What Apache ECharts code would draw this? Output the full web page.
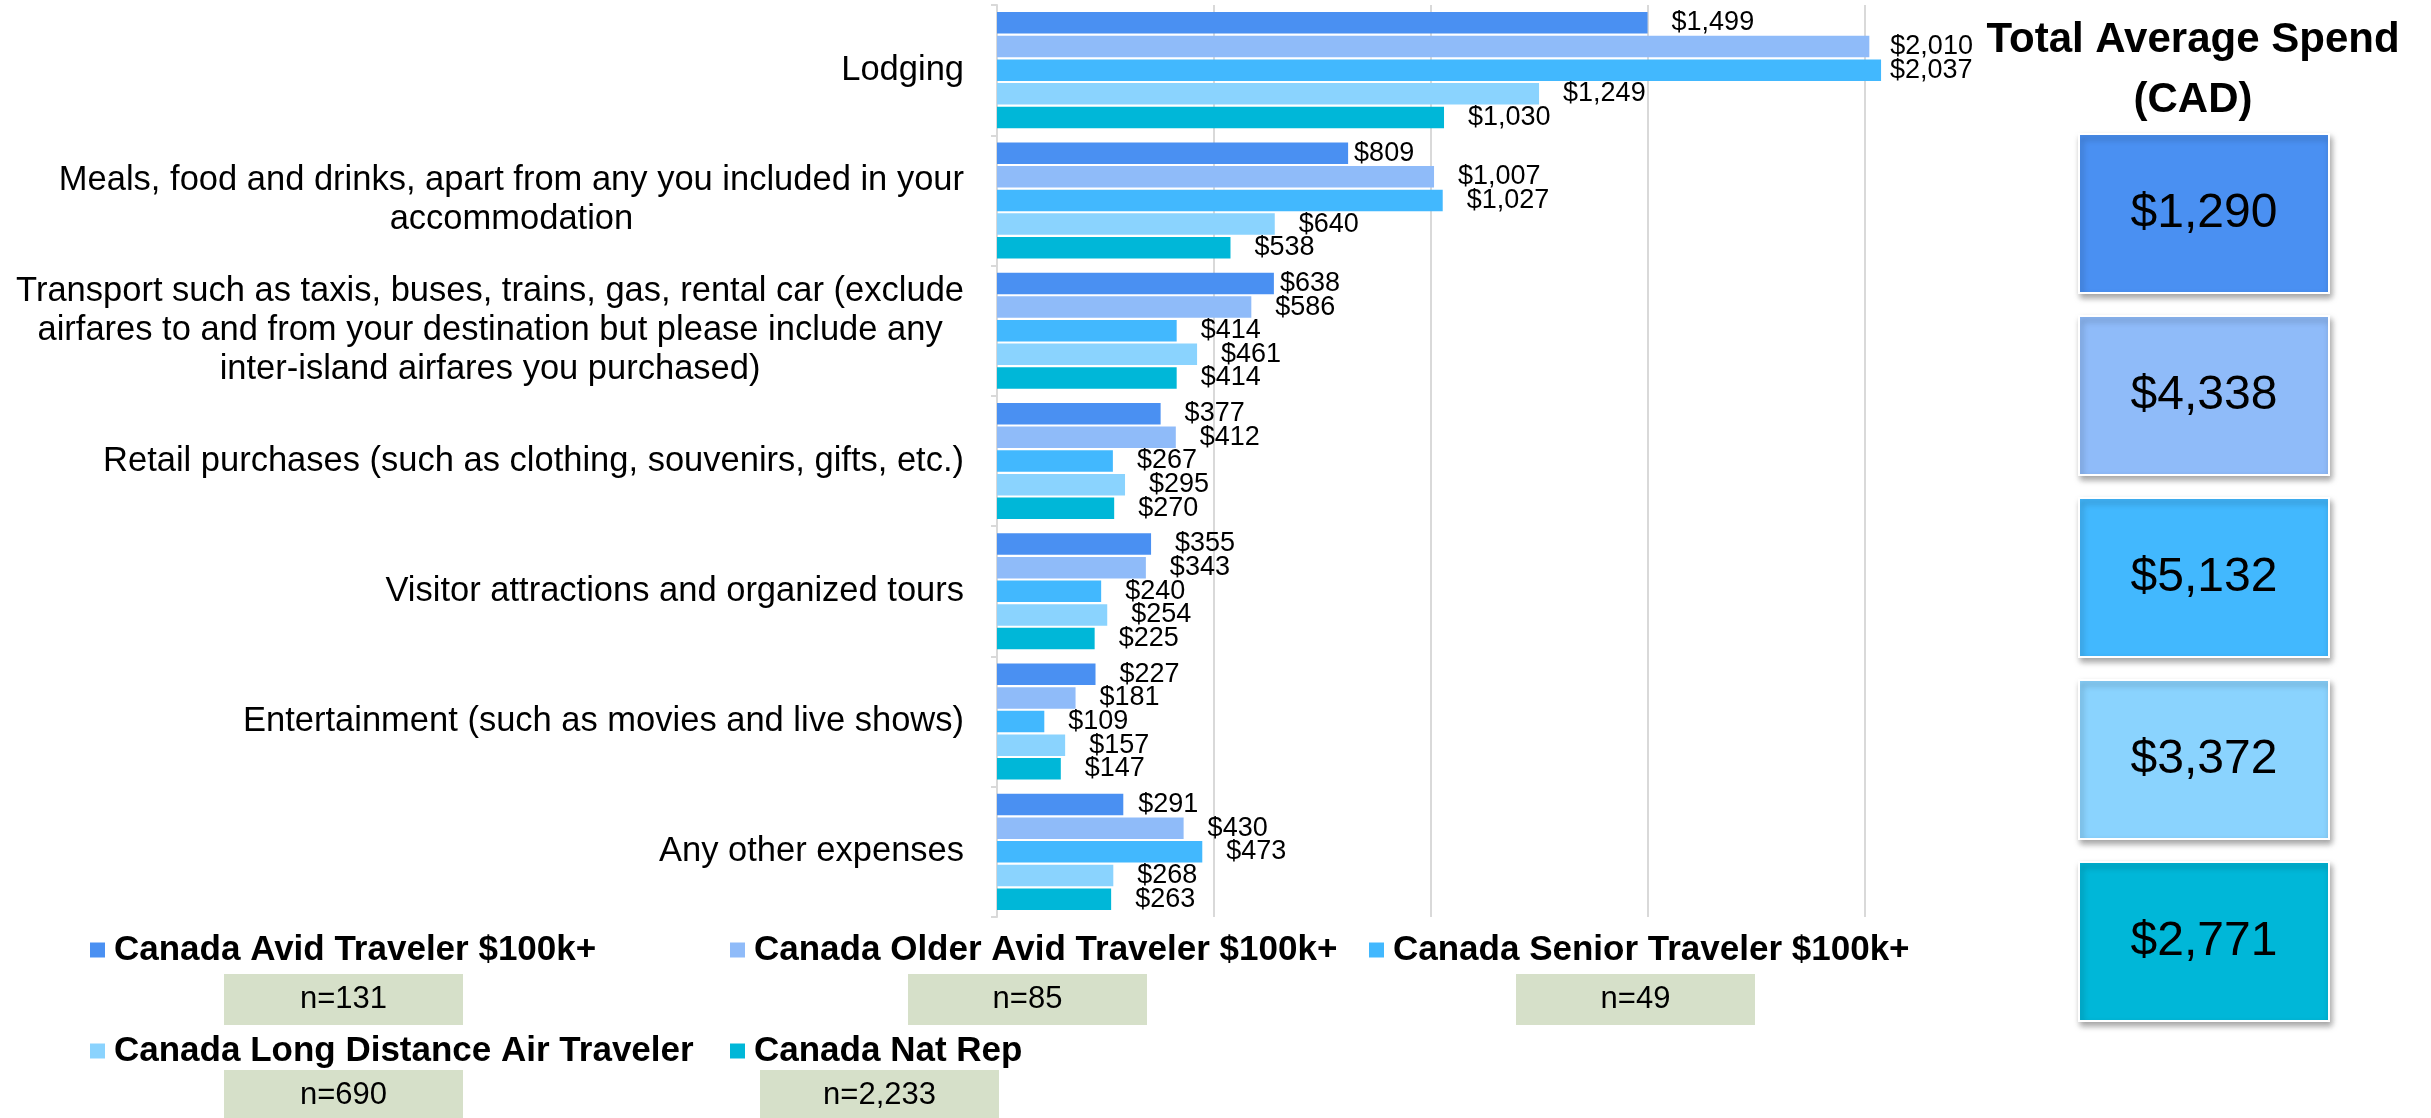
<!DOCTYPE html>
<html>
<head>
<meta charset="utf-8">
<script src="https://cdn.jsdelivr.net/npm/echarts@6/dist/echarts.min.js"></script>
<style>
  html, body { margin: 0; padding: 0; background: #fff; }
  #chart { width: 2431px; height: 1118px; }
</style>
</head>
<body>
<div id="chart"></div>
<script>
// spending categories (top to bottom)
const categories = [
  'Lodging',
  'Meals, food and drinks, apart from any you included in your accommodation',
  'Transport such as taxis, buses, trains, gas, rental car (exclude airfares to and from your destination but please include any inter-island airfares you purchased)',
  'Retail purchases (such as clothing, souvenirs, gifts, etc.)',
  'Visitor attractions and organized tours',
  'Entertainment (such as movies and live shows)',
  'Any other expenses'
]
const seriesNames = [
  'Canada Avid Traveler $100k+',
  'Canada Older Avid Traveler $100k+',
  'Canada Senior Traveler $100k+',
  'Canada Long Distance Air Traveler',
  'Canada Nat Rep'
]
// average spend per category (CAD)
const avid = [1499, 809, 638, 377, 355, 227, 291]
const olderAvid = [2010, 1007, 586, 412, 343, 181, 430]
const senior = [2037, 1027, 414, 267, 240, 109, 473]
const longDistance = [1249, 640, 461, 295, 254, 157, 268]
const natRep = [1030, 538, 414, 270, 225, 147, 263]
// total average spend boxes, one per segment
const totals = [1290, 4338, 5132, 3372, 2771]
// sample sizes under the legend
const sampleSizes = [131, 85, 49, 690, 2233]

const colors = ['#4A90F2', '#8FBBF9', '#42B8FE', '#8AD3FE', '#00B7D8']
const FONT = '"Liberation Sans", Arial, Helvetica, sans-serif'
const money = v => '$' + v.toLocaleString('en-US')

// a few labels sit closer to their bar in the original ("series-category": distance)
const labelNudge = { '0-1': 6, '0-2': 6, '0-6': 15, '1-0': 21, '2-0': 9 }

// wrap long category names, lines centred like the original
const ctx = document.createElement('canvas').getContext('2d')
ctx.font = '34.5px ' + FONT
function wrap(text, maxW) {
  const words = text.split(' ')
  const lines = []
  let cur = ''
  words.forEach(w => {
    const test = cur ? cur + ' ' + w : w
    if (cur && ctx.measureText(test).width > maxW) {
      lines.push(cur)
      cur = w
    } else {
      cur = test
    }
  })
  if (cur) lines.push(cur)
  return lines
}

const seriesData = [avid, olderAvid, senior, longDistance, natRep]

// legend laid out in columns like the original
const legendPos = [[90, 930], [730, 930], [1369, 930], [90, 1031], [730, 1031]]
const nBoxPos = [[224, 974], [908, 974], [1516, 974], [224, 1070], [760, 1070]]

const graphics = []
totals.forEach((t, i) => {
  graphics.push({
    type: 'rect',
    left: 2078,
    top: 133 + i * 182,
    shape: { width: 250, height: 159 },
    style: {
      fill: colors[i],
      stroke: '#fff',
      lineWidth: 2,
      shadowBlur: 6,
      shadowOffsetX: 2,
      shadowOffsetY: 4,
      shadowColor: 'rgba(0,0,0,0.35)'
    },
    textContent: {
      style: { text: money(t), fontSize: 48, fontFamily: FONT, fill: '#000' }
    },
    textConfig: { position: 'inside' }
  })
})
sampleSizes.forEach((n, i) => {
  graphics.push({
    type: 'rect',
    left: nBoxPos[i][0],
    top: nBoxPos[i][1],
    shape: { width: 239, height: 51 },
    style: { fill: '#D6E0C9' },
    textContent: {
      style: { text: 'n=' + n.toLocaleString('en-US'), fontSize: 31, fontFamily: FONT, fill: '#000' }
    },
    textConfig: { position: 'inside' }
  })
})

const chart = echarts.init(document.getElementById('chart'))
chart.setOption({
  animation: false,
  color: colors,
  title: {
    text: 'Total Average Spend\n(CAD)',
    left: 2193,
    top: 10,
    textAlign: 'center',
    padding: 0,
    textStyle: { fontSize: 42, fontWeight: 'bold', fontFamily: FONT, color: '#000', lineHeight: 60 }
  },
  legend: seriesNames.map((name, i) => ({
    data: [name],
    left: legendPos[i][0],
    top: legendPos[i][1],
    padding: 0,
    icon: 'rect',
    itemWidth: 15,
    itemHeight: 15,
    selectedMode: false,
    textStyle: {
      fontSize: 35,
      fontWeight: 'bold',
      fontFamily: FONT,
      color: '#000',
      lineHeight: 40,
      padding: [0, 0, 0, 4]
    }
  })),
  grid: {
    left: 997,
    right: 349,
    top: 5,
    bottom: 201,
    containLabel: false,
    outerBoundsMode: 'none'
  },
  xAxis: {
    type: 'value',
    min: 0,
    max: 2500,
    interval: 500,
    axisLabel: { show: false },
    axisLine: { show: false },
    axisTick: { show: false },
    splitLine: {
      show: true,
      showMinLine: false,
      showMaxLine: false,
      lineStyle: { color: '#D9D9D9', width: 2 }
    }
  },
  yAxis: {
    type: 'category',
    data: categories,
    inverse: true,
    axisLine: { show: true, lineStyle: { color: '#D9D9D9', width: 2 } },
    axisTick: { show: true, length: 6, lineStyle: { color: '#D9D9D9', width: 2 } },
    axisLabel: {
      margin: 33,
      align: 'right',
      fontSize: 34.5,
      lineHeight: 39,
      fontFamily: FONT,
      color: '#000',
      formatter: v => wrap(v, 1000).map(l => '{c|' + l + '}').join('\n'),
      rich: {
        c: { align: 'center', fontSize: 34.5, lineHeight: 39, fontFamily: FONT, color: '#000' }
      }
    }
  },
  series: seriesNames.map((name, i) => ({
    name: name,
    type: 'bar',
    data: seriesData[i].map((v, j) => {
      const d = labelNudge[i + '-' + j]
      return d === undefined ? v : { value: v, label: { distance: d } }
    }),
    barWidth: 21.5,
    barGap: '10%',
    itemStyle: { color: colors[i] },
    label: {
      show: true,
      position: 'right',
      distance: 24,
      fontSize: 27,
      fontFamily: FONT,
      color: '#000',
      formatter: p => money(p.value)
    }
  })),
  graphic: graphics
})
</script>
</body>
</html>
